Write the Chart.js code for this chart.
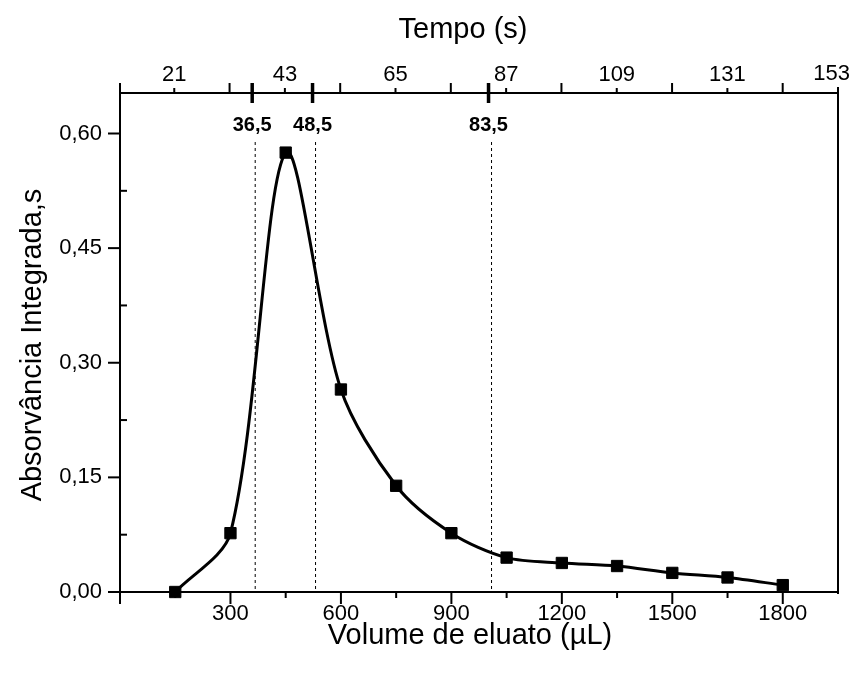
<!DOCTYPE html>
<html><head><meta charset="utf-8">
<script src="https://cdn.jsdelivr.net/npm/chart.js@4/dist/chart.umd.min.js"></script>
<style>html,body{margin:0;padding:0;background:#fff}#wrap{width:852px;height:674px}</style>
</head><body><div id="wrap"><canvas id="c" width="852" height="674"></canvas></div>
<script>
const volume = [150, 300, 450, 600, 750, 900, 1050, 1200, 1350, 1500, 1650, 1800];
const absorbance = [0.000, 0.077, 0.575, 0.265, 0.139, 0.077, 0.045, 0.038, 0.034, 0.025, 0.019, 0.009];
const volumeTicks = [300, 600, 900, 1200, 1500, 1800];
const volumeMinorTicks = [150, 450, 750, 1050, 1350, 1650];
const timeTicks = [21, 43, 65, 87, 109, 131, 153];
const timeLongTicks = [32, 54, 76, 98, 120, 142];
const timeMarks = [36.5, 48.5, 83.5];
const timeMarkLabels = ['36,5', '48,5', '83,5'];
const absTicks = [0, 0.15, 0.30, 0.45, 0.60];
const absMinorTicks = [0.075, 0.225, 0.375, 0.525];

const FONT = "Arial, 'Liberation Sans', sans-serif";
const lastTime = timeTicks[timeTicks.length - 1];

const decor = {
  id: 'decor',
  afterDraw(chart) {
    const ctx = chart.ctx;
    const a = chart.chartArea;
    const xs = chart.scales.x, x2 = chart.scales.x2, ys = chart.scales.y;
    ctx.save();
    ctx.strokeStyle = '#000';
    ctx.fillStyle = '#000';
    ctx.lineCap = 'butt';
    const line = (x1, y1, xB, yB, w) => { ctx.lineWidth = w; ctx.beginPath(); ctx.moveTo(x1, y1); ctx.lineTo(xB, yB); ctx.stroke(); };
    // frame
    line(a.left, a.top - 10, a.left, a.bottom + 12, 2);
    line(a.right, a.top - 6, a.right, a.bottom + 2, 2);
    // bottom ticks
    volumeTicks.forEach(v => { const p = xs.getPixelForValue(v); line(p, a.bottom, p, a.bottom + 12, 2); });
    volumeMinorTicks.forEach(v => { const p = xs.getPixelForValue(v); line(p, a.bottom, p, a.bottom + 6, 2); });
    // top ticks
    timeTicks.forEach(v => { const p = x2.getPixelForValue(v); line(p, a.top, p, a.top - 5, 2); });
    timeLongTicks.forEach(v => { const p = x2.getPixelForValue(v); line(p, a.top, p, a.top - 10, 2); });
    // last top label, kept inside the canvas
    ctx.font = '22px ' + FONT;
    ctx.textAlign = 'right';
    ctx.textBaseline = 'middle';
    ctx.fillText(String(lastTime), chart.width - 2, 74);
    // left ticks
    absTicks.forEach(v => { const p = ys.getPixelForValue(v); line(a.left - 12, p, a.left, p, 2); });
    absMinorTicks.forEach(v => { const p = ys.getPixelForValue(v); line(a.left, p, a.left + 7, p, 2); });
    // time marks, dashed lines and labels
    timeMarks.forEach((t, i) => {
      const p = x2.getPixelForValue(t);
      line(p, a.top - 10, p, a.top + 10, 3.5);
      ctx.save();
      ctx.setLineDash([3, 3]);
      line(p + 3, 142, p + 3, a.bottom, 1);
      ctx.restore();
      ctx.font = 'bold 20px ' + FONT;
      ctx.textAlign = 'center';
      ctx.textBaseline = 'middle';
      ctx.fillText(timeMarkLabels[i], p, 125);
    });
    // titles
    ctx.font = '29px ' + FONT;
    ctx.textAlign = 'center';
    ctx.textBaseline = 'middle';
    ctx.fillText('Tempo (s)', 463, 30);
    ctx.fillText('Volume de eluato (\u00b5L)', 470, 636);
    ctx.translate(33, 345);
    ctx.rotate(-Math.PI / 2);
    ctx.fillText('Absorv\u00e2ncia Integrada,s', 0, 0);
    ctx.restore();
  }
};

const tickFont = { family: FONT, size: 22 };
const noSidePad = s => { s.paddingLeft = 0; s.paddingRight = 0; };

new Chart(document.getElementById('c'), {
  type: 'line',
  data: {
    datasets: [{
      data: volume.map((v, i) => ({ x: v, y: absorbance[i] })),
      borderColor: '#000',
      borderWidth: 3,
      tension: 0.3,
      pointStyle: 'rect',
      pointRadius: 8,
      pointBackgroundColor: '#000',
      pointBorderColor: '#000',
      pointBorderWidth: 1,
      xAxisID: 'x',
      yAxisID: 'y',
      clip: false
    }]
  },
  options: {
    responsive: false,
    animation: false,
    devicePixelRatio: 1,
    layout: { padding: { left: 0, right: 14, top: 0, bottom: 0 } },
    plugins: { legend: { display: false }, tooltip: { enabled: false } },
    scales: {
      x: {
        type: 'linear', position: 'bottom', min: 0, max: 1950,
        afterBuildTicks: s => { s.ticks = volumeTicks.map(v => ({ value: v })); },
        afterFit: s => { s.height = 82; noSidePad(s); },
        grid: { display: false },
        border: { display: true, color: '#000', width: 2 },
        ticks: { autoSkip: false, maxRotation: 0, color: '#000', font: tickFont, padding: 1, callback: v => String(v) }
      },
      x2: {
        type: 'linear', position: 'top', min: 10.21, max: 153,
        afterBuildTicks: s => { s.ticks = timeTicks.map(v => ({ value: v })); },
        afterFit: s => { s.height = 93; noSidePad(s); },
        grid: { display: false },
        border: { display: true, color: '#000', width: 2 },
        ticks: { autoSkip: false, maxRotation: 0, color: '#000', font: tickFont, padding: -3, callback: v => (v === lastTime ? '' : String(v)) }
      },
      y: {
        type: 'linear', position: 'left', min: 0, max: 0.653,
        afterBuildTicks: s => { s.ticks = absTicks.map(v => ({ value: v })); },
        afterFit: s => { s.width = 120; s.paddingTop = 0; s.paddingBottom = 0; },
        grid: { display: false },
        border: { display: true, color: '#000', width: 2 },
        ticks: { autoSkip: false, color: '#000', font: tickFont, padding: 10, callback: v => v.toFixed(2).replace('.', ',') }
      }
    }
  },
  plugins: [decor]
});
</script></body></html>
